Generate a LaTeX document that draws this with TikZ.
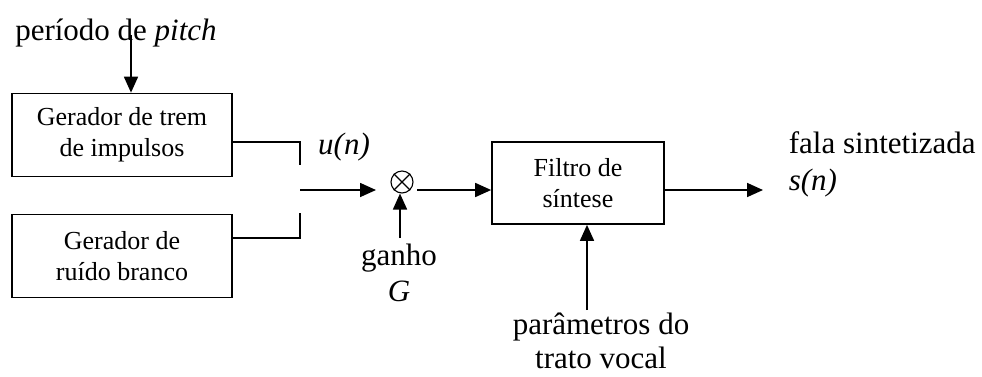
\documentclass[tikz,border=0pt]{standalone}
\usepackage{fontspec}
\setmainfont{Liberation Serif}
\usetikzlibrary{arrows.meta}
\begin{document}
\begin{tikzpicture}[x=1pt,y=-1pt,
  line width=1.7pt,
  blk/.style={draw, rectangle, align=center, inner sep=0pt,
    font=\fontsize{26}{31}\selectfont},
  lbl/.style={inner sep=0pt, font=\fontsize{31}{35}\selectfont},
  arr/.style={-{Triangle[length=16pt,width=14pt]}}]
\useasboundingbox (0,0) rectangle (982,376);

% blocks
\node[blk, minimum width=220pt, minimum height=83pt] (pulse) at (122,135) {Gerador de trem\\de impulsos};
\node[blk, minimum width=220pt, minimum height=83pt] (noise) at (122,256) {Gerador de\\ruído branco};
\node[blk, minimum width=172pt, minimum height=82pt] (filt) at (578,183) {Filtro de\\síntese};

% multiplier
\node[circle, draw, minimum size=22pt, inner sep=0pt, line width=1.1pt] (mult) at (402,182) {};
\draw[line width=1.1pt] (mult.north east) -- (mult.south west)
                        (mult.north west) -- (mult.south east);

% labels
\node[lbl] (pitch) at (116,33) {período de \textit{pitch}};
\node[lbl] (un) at (344,147) {\textit{u(n)}};
\node[lbl] (ganho) at (399,258) {ganho};
\node[lbl] (gain) at (399,291) {\textit{G}};
\node[lbl, anchor=west] (fala) at (788,143) {fala sintetizada};
\node[lbl, anchor=west] (sn) at (788,183) {\textit{s(n)}};
\node[lbl, align=center, font=\fontsize{31}{34}\selectfont] (param) at (601,341) {parâmetros do\\trato vocal};

% switch terminals and free ends
\coordinate (pitchx) at (131,35);
\coordinate (swa) at (300,165);
\coordinate (swb) at (300,213);
\coordinate (swo) at (300,190);
\coordinate (mulin) at (376,190);
\coordinate (mulout) at (417,190);
\coordinate (outend) at (763,190);
\coordinate (gainx) at (400,238);
\coordinate (paramx) at (587,310);

% connectors
\draw[arr] (pitchx) -- (pulse.north -| pitchx);
\draw (pulse.east |- 0,142) -- (300,142) -- (swa);
\draw (noise.east |- 0,238) -- (300,238) -- (swb);
\draw[arr] (swo) -- (mulin);
\draw[arr] (gainx) -- (mult.south -| gainx);
\draw[arr] (mulout) -- (filt.west |- mulout);
\draw[arr] (filt.east |- outend) -- (outend);
\draw[arr] (paramx) -- (filt.south -| paramx);
\end{tikzpicture}
\end{document}
